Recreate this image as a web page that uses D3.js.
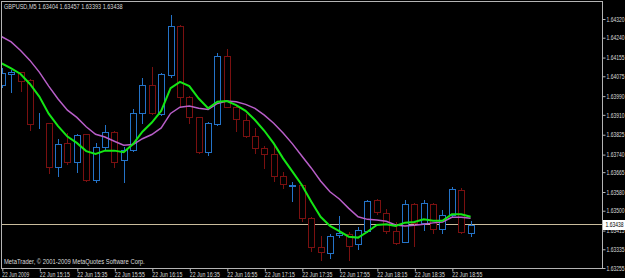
<html>
<head>
<meta http-equiv="content-type" content="text/html; charset=UTF8">
<title>GBPUSD,M5</title>
<script src="https://cdnjs.cloudflare.com/ajax/libs/d3/7.8.5/d3.min.js"></script>
</head>
<style type="text/css">

body { margin: 0; padding: 0; background: #000; overflow: hidden; }
svg text { font-family: "Liberation Sans", Arial, sans-serif; font-size: 7px; }

</style>
<body>

<div id="chart"></div>

<script type="text/javascript">

var symbol = "GBPUSD,M5";
var firstBar = new Date(2009, 5, 22, 14, 55);
var lastBar = new Date(2009, 5, 22, 19, 5);

// OHLC, one value per 5 minute bar
var opens = [1.64038, 1.64085, 1.64093, 1.64058, 1.63869, 1.63875, 1.63687, 1.63790, 1.63708, 1.63828,
             1.63631, 1.63773, 1.63837, 1.63717, 1.63760, 1.63918, 1.64038, 1.63914, 1.64081, 1.64290,
             1.63986, 1.63901, 1.63751, 1.63871, 1.64162, 1.63944, 1.63888, 1.63820, 1.63768, 1.63743,
             1.63649, 1.63606, 1.63610, 1.63469, 1.63345, 1.63319, 1.63396, 1.63400, 1.63358, 1.63413,
             1.63546, 1.63490, 1.63413, 1.63366, 1.63529, 1.63448, 1.63529, 1.63422, 1.63482, 1.63589,
             1.63404];
var highs = [1.64110, 1.64102, 1.64095, 1.64063, 1.63918, 1.63877, 1.63807, 1.63832, 1.63826, 1.63830,
             1.63790, 1.63867, 1.63841, 1.63773, 1.63935, 1.64068, 1.64115, 1.64089, 1.64337, 1.64294,
             1.63991, 1.63901, 1.63880, 1.64175, 1.64192, 1.63948, 1.63914, 1.63854, 1.63777, 1.63777,
             1.63666, 1.63623, 1.63610, 1.63473, 1.63392, 1.63400, 1.63477, 1.63409, 1.63430, 1.63546,
             1.63550, 1.63507, 1.63452, 1.63546, 1.63533, 1.63546, 1.63533, 1.63503, 1.63601, 1.63597,
             1.63457];
var lows = [1.64029, 1.64008, 1.64012, 1.63845, 1.63854, 1.63661, 1.63649, 1.63700, 1.63666, 1.63627,
            1.63623, 1.63760, 1.63687, 1.63623, 1.63754, 1.63875, 1.63914, 1.63909, 1.64072, 1.63944,
            1.63875, 1.63747, 1.63738, 1.63867, 1.63944, 1.63841, 1.63815, 1.63747, 1.63683, 1.63627,
            1.63597, 1.63542, 1.63456, 1.63328, 1.63289, 1.63298, 1.63388, 1.63289, 1.63337, 1.63409,
            1.63486, 1.63405, 1.63358, 1.63366, 1.63349, 1.63418, 1.63405, 1.63405, 1.63477, 1.63405,
            1.63393];
var closes = [1.64089, 1.64093, 1.64055, 1.63871, 1.63872, 1.63687, 1.63785, 1.63708, 1.63824, 1.63631,
              1.63773, 1.63837, 1.63708, 1.63760, 1.63918, 1.64038, 1.63918, 1.64085, 1.64290, 1.63986,
              1.63901, 1.63751, 1.63875, 1.64162, 1.63944, 1.63892, 1.63820, 1.63768, 1.63743, 1.63649,
              1.63614, 1.63610, 1.63469, 1.63345, 1.63323, 1.63392, 1.63405, 1.63349, 1.63418, 1.63542,
              1.63495, 1.63413, 1.63362, 1.63529, 1.63448, 1.63533, 1.63422, 1.63482, 1.63593, 1.63409,
              1.63438];

// moving averages as drawn on the chart
var maFast = [1.64130, 1.64109, 1.64085, 1.64042, 1.63988, 1.63915, 1.63862, 1.63817, 1.63790, 1.63755,
              1.63743, 1.63757, 1.63757, 1.63750, 1.63785, 1.63838, 1.63877, 1.63927, 1.64024, 1.64051,
              1.64033, 1.63980, 1.63938, 1.63966, 1.63969, 1.63952, 1.63927, 1.63888, 1.63842, 1.63788,
              1.63724, 1.63667, 1.63610, 1.63539, 1.63474, 1.63435, 1.63413, 1.63389, 1.63385, 1.63410,
              1.63439, 1.63442, 1.63435, 1.63449, 1.63452, 1.63463, 1.63457, 1.63457, 1.63485, 1.63485,
              1.63474];
var maSlow = [1.64244, 1.64222, 1.64185, 1.64143, 1.64093, 1.64033, 1.63978, 1.63930, 1.63899, 1.63859,
              1.63827, 1.63815, 1.63797, 1.63780, 1.63783, 1.63808, 1.63826, 1.63854, 1.63916, 1.63943,
              1.63948, 1.63938, 1.63933, 1.63959, 1.63969, 1.63966, 1.63955, 1.63938, 1.63909, 1.63874,
              1.63832, 1.63786, 1.63734, 1.63683, 1.63627, 1.63581, 1.63550, 1.63510, 1.63474, 1.63463,
              1.63460, 1.63455, 1.63439, 1.63435, 1.63438, 1.63442, 1.63448, 1.63452, 1.63472, 1.63472,
              1.63468];

var priceTicks = [1.64320, 1.64240, 1.64155, 1.64075, 1.63990, 1.63910, 1.63825, 1.63740,
                  1.63665, 1.63580, 1.63500, 1.63415, 1.63335, 1.63255];
var timeTicks = ["14:55", "15:15", "15:35", "15:55", "16:15", "16:35", "16:55",
                 "17:15", "17:35", "17:55", "18:15", "18:35", "18:55"];
var timeTickLabels = ["22 Jun 2009", "22 Jun 15:15", "22 Jun 15:35", "22 Jun 15:55", "22 Jun 16:15",
                      "22 Jun 16:35", "22 Jun 16:55", "22 Jun 17:15", "22 Jun 17:35", "22 Jun 17:55",
                      "22 Jun 18:15", "22 Jun 18:35", "22 Jun 18:55"];
var copyright = "MetaTrader, \u00a9 2001-2009 MetaQuotes Software Corp.";

(function(){
    var width = 625, height = 278;
    var left = 1, top = 1, right = 602, bottom = 268;
    var upColor = "#2473c8", downColor = "#7a1010";
    var frame = "#b4b4b4", textColor = "#dcdcdc";
    var fmt = d3.format(".5f");

    var bars = d3.timeMinute.every(5).range(firstBar, d3.timeMinute.offset(lastBar, 1)).map(function(t, i){
        return { t: t, o: opens[i], h: highs[i], l: lows[i], c: closes[i], fast: maFast[i], slow: maSlow[i] };
    });
    var last = bars[bars.length - 1];

    var x = d3.scaleTime().domain([firstBar, lastBar]).range([1.8, 470.6]);
    var y = d3.scaleLinear().domain([1.63255, 1.64320]).range([268, 19]);
    var px = function(d){ return Math.round(x(d.t)) + 0.5; };
    var parseTick = d3.timeParse("%H:%M");
    var tickDates = timeTicks.map(function(s){
        var p = parseTick(s);
        return new Date(2009, 5, 22, p.getHours(), p.getMinutes());
    });

    // squeeze text horizontally to the narrow MetaTrader font width
    var squeeze = function(sel, w){
        sel.each(function(){
            var node = d3.select(this);
            var s = w / this.getComputedTextLength();
            var x0 = +node.attr("x") || 0;
            node.attr("x", x0 / s).attr("transform", "scale(" + s + ",1)");
        });
    };

    var svg = d3.select("#chart").append("svg")
        .attr("width", width).attr("height", height)
        .style("display", "block")
        .style("background", "#000");

    svg.append("clipPath").attr("id", "plot")
        .append("rect").attr("x", left + 1).attr("y", top + 1)
        .attr("width", right - left - 1).attr("height", bottom - top - 1);

    var plot = svg.append("g").attr("clip-path", "url(#plot)");

    // bid line
    plot.append("line")
        .attr("x1", left).attr("x2", right)
        .attr("y1", Math.round(y(last.c)) - 0.5).attr("y2", Math.round(y(last.c)) - 0.5)
        .attr("stroke", "#c9bc9c").attr("stroke-width", 1);

    var candle = plot.selectAll(".candle").data(bars).enter().append("g").attr("class", "candle");
    candle.append("line")
        .attr("x1", px).attr("x2", px)
        .attr("y1", function(d){ return Math.round(y(d.h)); })
        .attr("y2", function(d){ return Math.round(y(d.l)) + 1; })
        .attr("stroke", function(d){ return d.c >= d.o ? upColor : downColor; });
    candle.append("rect")
        .attr("x", function(d){ return px(d) - 3; })
        .attr("y", function(d){ return Math.round(y(Math.max(d.o, d.c))) + 0.5; })
        .attr("width", 6)
        .attr("height", function(d){ return Math.max(0, Math.round(y(Math.min(d.o, d.c))) - Math.round(y(Math.max(d.o, d.c)))); })
        .attr("fill", "#000")
        .attr("stroke", function(d){ return d.c >= d.o ? upColor : downColor; });

    var slowLine = d3.line().x(function(d){ return x(d.t); }).y(function(d){ return y(d.slow); });
    var fastLine = d3.line().x(function(d){ return x(d.t); }).y(function(d){ return y(d.fast); });
    plot.append("path").attr("d", slowLine(bars))
        .attr("fill", "none").attr("stroke", "#b85ec8").attr("stroke-width", 1.5);
    plot.append("path").attr("d", fastLine(bars))
        .attr("fill", "none").attr("stroke", "#14e614").attr("stroke-width", 2);

    // frame
    svg.append("rect")
        .attr("x", left + 0.5).attr("y", top + 0.5)
        .attr("width", right - left).attr("height", bottom - top)
        .attr("fill", "none").attr("stroke", frame);

    // price axis
    var yAxis = svg.append("g")
        .attr("transform", "translate(" + (right + 0.5) + ",0)")
        .call(d3.axisRight(y).tickValues(priceTicks).tickFormat(fmt).tickSize(3).tickPadding(1));
    yAxis.select(".domain").remove();
    yAxis.attr("font-size", null).attr("font-family", null);
    yAxis.selectAll("line").attr("stroke", frame);
    yAxis.selectAll("text").attr("fill", textColor).call(squeeze, 18);

    // bid label
    var bidY = Math.round(y(last.c));
    svg.append("rect").attr("x", right + 1).attr("y", bidY - 5)
        .attr("width", width - right - 1).attr("height", 10).attr("fill", "#fff");
    svg.append("text").attr("x", right + 3.5).attr("y", bidY + 2.5)
        .attr("fill", "#000").text(fmt(last.c)).call(squeeze, 18);

    // time axis
    var xAxis = svg.append("g")
        .attr("transform", "translate(0," + (bottom + 0.5) + ")")
        .call(d3.axisBottom(x).tickValues(tickDates)
            .tickFormat(function(d, i){ return timeTickLabels[i]; })
            .tickSize(3).tickPadding(1));
    xAxis.select(".domain").remove();
    xAxis.attr("font-size", null).attr("font-family", null);
    xAxis.selectAll(".tick line").attr("stroke", frame).attr("transform", "translate(0.5,0)");
    xAxis.selectAll("text").attr("fill", textColor).attr("text-anchor", "start")
        .each(function(d, i){
            d3.select(this).call(squeeze, i === 0 ? 27 : 30);
        });

    // header and footer
    svg.append("text").attr("x", 4).attr("y", 9)
        .attr("fill", textColor)
        .text(symbol + "  " + [last.o, last.h, last.l, last.c].map(fmt).join(" "))
        .call(squeeze, 119);
    svg.append("text").attr("x", 4).attr("y", 264)
        .attr("fill", textColor)
        .text(copyright)
        .call(squeeze, 141);
})();

</script>
</body>
</html>
